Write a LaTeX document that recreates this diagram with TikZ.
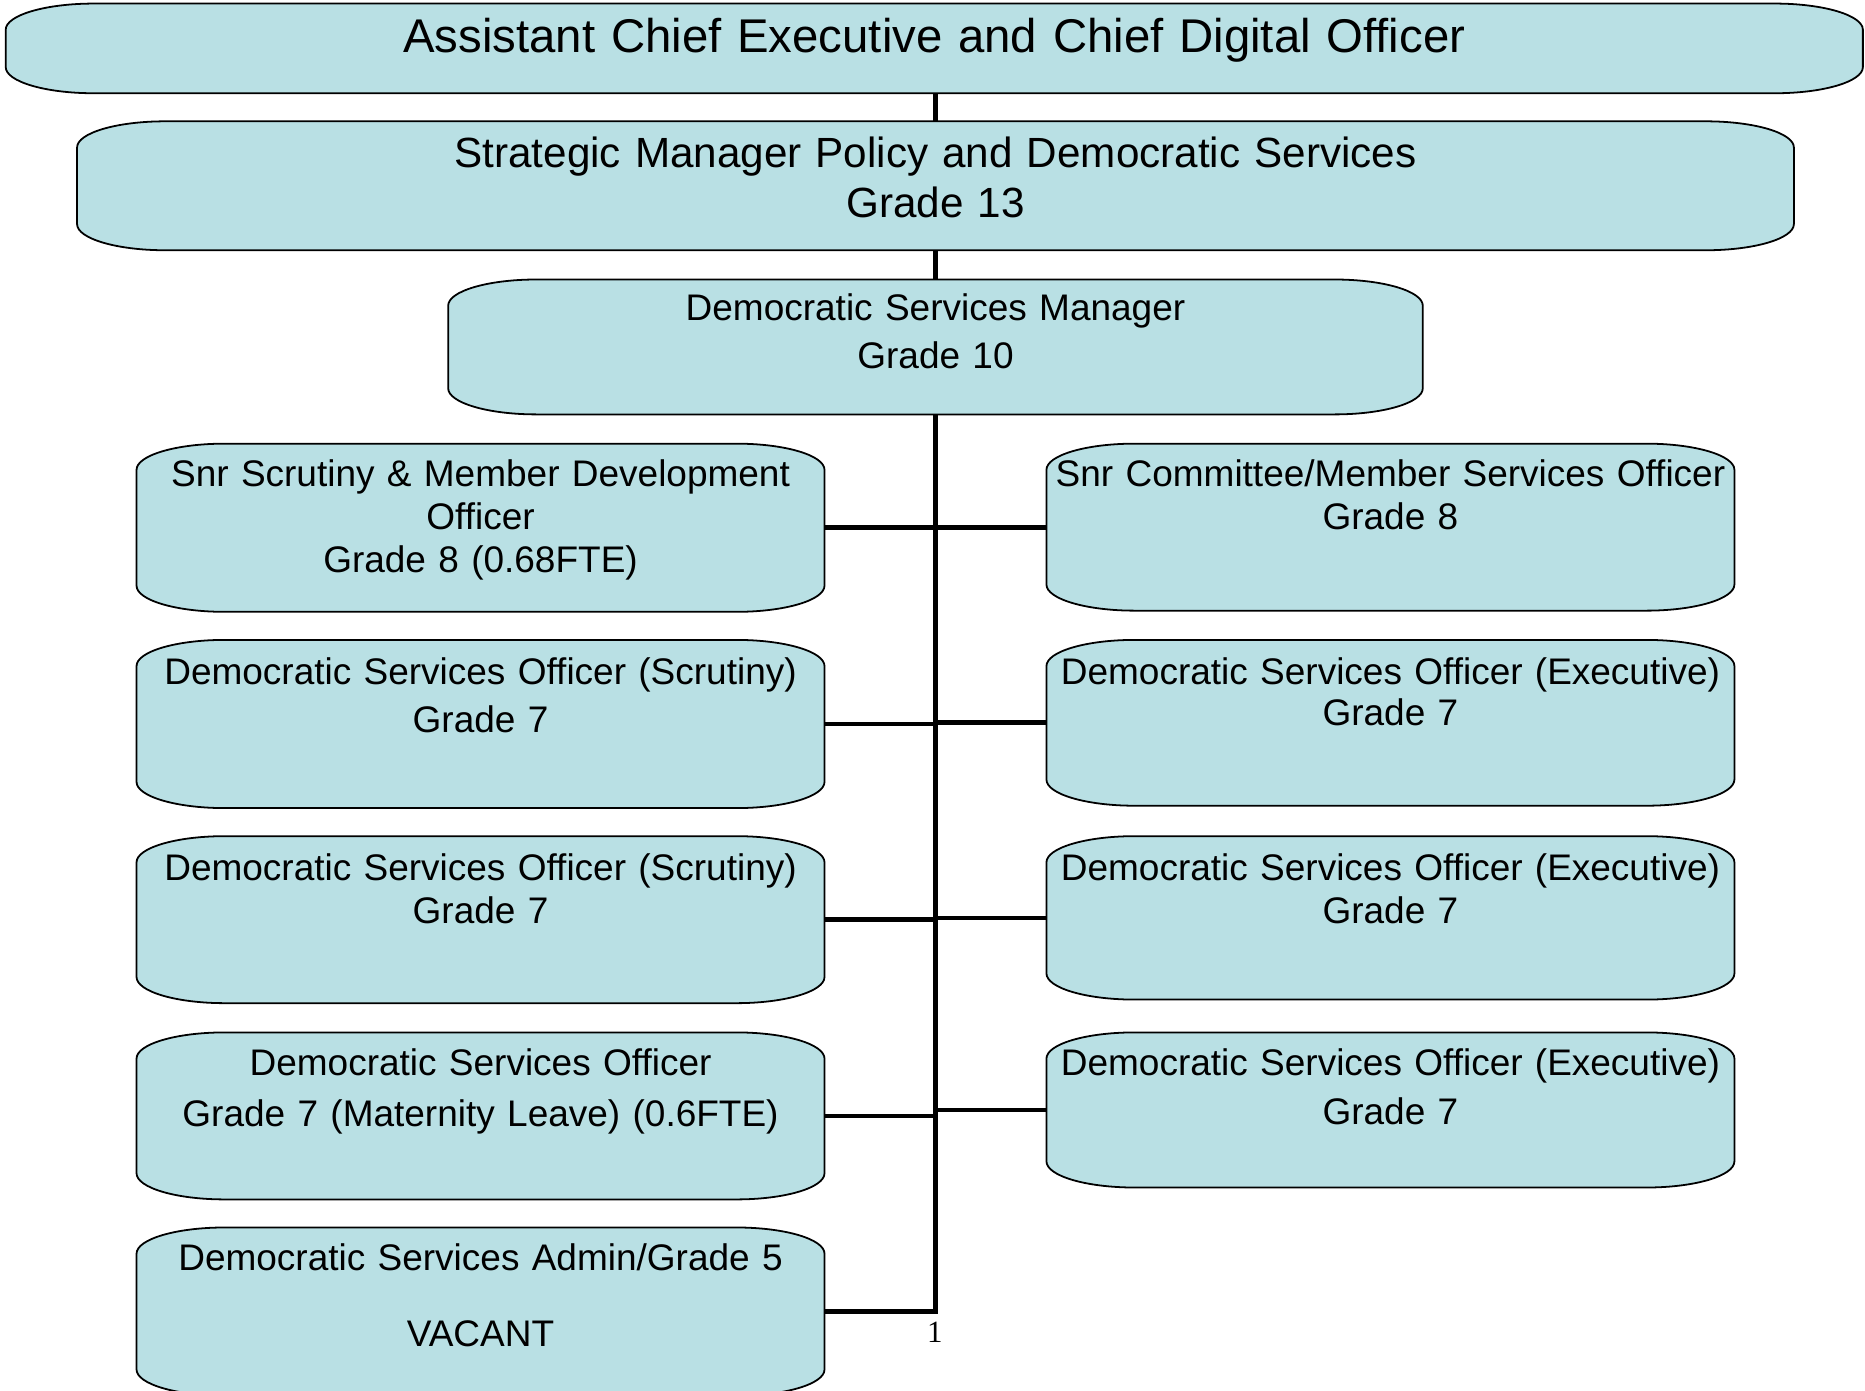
\documentclass[tikz,border=0pt]{standalone}
\usepackage{fontspec}
\setmainfont{Liberation Sans}
\newfontfamily\pagenumfont{Liberation Serif}
\usetikzlibrary{backgrounds}

\definecolor{postfill}{RGB}{185,224,228}
\newcommand{\cornerx}{74pt}
\newcommand{\cornery}{22pt}
% box with quarter-ellipse corners round a node
\newcommand{\postshape}[1]{%
  \filldraw[postline] ([xshift=\cornerx]#1.north west) -- ([xshift=-\cornerx]#1.north east)
    arc[start angle=90, end angle=0, x radius=\cornerx, y radius=\cornery]
    -- ([yshift=\cornery]#1.south east)
    arc[start angle=0, end angle=-90, x radius=\cornerx, y radius=\cornery]
    -- ([xshift=\cornerx]#1.south west)
    arc[start angle=270, end angle=180, x radius=\cornerx, y radius=\cornery]
    -- ([yshift=-\cornery]#1.north west)
    arc[start angle=180, end angle=90, x radius=\cornerx, y radius=\cornery] -- cycle;}

\begin{document}
\begin{tikzpicture}[x=1pt,y=1pt,
    post/.style={inner sep=0pt, align=center, anchor=north, text width=578pt,
      font=\fontsize{31.1}{36}\selectfont},
    postline/.style={fill=postfill, draw=black, line width=1.5pt},
    link/.style={line width=4pt}]
\useasboundingbox (0,0) rectangle (1568,-1169);

\node[post, font=\fontsize{39.8}{48}\selectfont, text width=1561pt, text height=41pt, text depth=34pt]
  (ace) at (785.5,-3) {Assistant Chief Executive and Chief Digital Officer};
\node[post, font=\fontsize{35.5}{42}\selectfont, text width=1443pt, text height=39pt, text depth=69pt]
  (smp) at (786.5,-102) {Strategic Manager Policy and Democratic Services\\Grade 13};
\node[post, font=\fontsize{31.1}{41}\selectfont, text width=819pt, text height=34pt, text depth=79pt]
  (dsm) at (786.5,-235) {Democratic Services Manager\\Grade 10};

% left column
\node[post, text height=36pt, text depth=105pt] (l1) at (404,-373)
  {Snr Scrutiny \& Member Development\\Officer\\Grade 8 (0.68FTE)};
\node[post, text height=37pt, text depth=104pt] (l2) at (404,-538)
  {Democratic Services Officer (Scrutiny)\\[5pt]Grade 7};
\node[post, text height=37pt, text depth=103pt] (l3) at (404,-703)
  {Democratic Services Officer (Scrutiny)\\Grade 7};
\node[post, text height=36pt, text depth=104pt] (l4) at (404,-868)
  {Democratic Services Officer\\[7pt]Grade 7 (Maternity Leave) (0.6FTE)};
\node[post, text height=36pt, text depth=105pt] (l5) at (404,-1032)
  {Democratic Services Admin/Grade 5\\[28pt]VACANT};

% right column
\node[post, text height=36pt, text depth=104pt] (r1) at (1169,-373)
  {Snr Committee/Member Services Officer\\Grade 8};
\node[post, text height=37pt, text depth=102pt] (r2) at (1169,-538)
  {Democratic Services Officer (Executive)\\[-1pt]Grade 7};
\node[post, text height=37pt, text depth=100pt] (r3) at (1169,-703)
  {Democratic Services Officer (Executive)\\Grade 7};
\node[post, text height=36pt, text depth=94pt] (r4) at (1169,-868)
  {Democratic Services Officer (Executive)\\[5pt]Grade 7};

\node[font=\pagenumfont\fontsize{26}{26}\selectfont] (pgno) at (786,-1120) {1};

\begin{scope}[on background layer]
  \foreach \n in {ace,smp,dsm,l1,l2,l3,l4,l5,r1,r2,r3,r4}
    \postshape{\n};
\end{scope}

\draw[link] (ace.south -| smp.north) -- (smp.north);
\draw[link] (smp.south) -- (dsm.north);
\draw[link] (dsm.south) |- (l5.east);
\foreach \n in {l1,l2,l3,l4,r1,r2,r3,r4}
  \draw[link] (\n) -- (\n -| dsm.south);
\end{tikzpicture}
\end{document}
